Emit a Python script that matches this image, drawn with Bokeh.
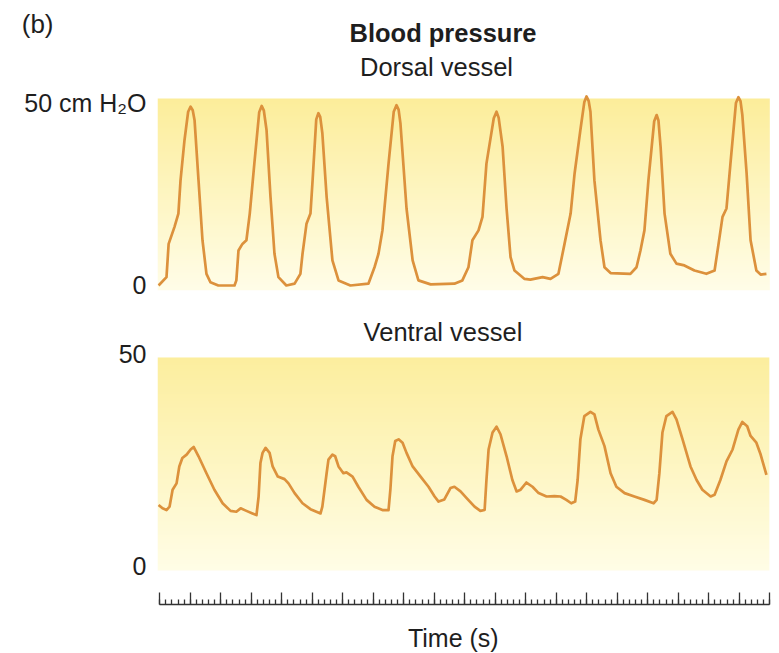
import numpy as np
from bokeh.plotting import figure
from bokeh.layouts import column
from bokeh.models import Range1d, FixedTicker, SingleIntervalTicker
from bokeh.core.properties import value
from bokeh.embed import file_html
from bokeh.resources import INLINE

# ---------------- data ----------------
dorsal_time = [-0.04, 0.22, 0.29, 0.48, 0.61, 0.68, 0.81, 0.93, 1.01, 1.08, 1.14, 1.27, 1.40, 1.53, 1.66, 1.92,
               2.45, 2.51, 2.58, 2.71, 2.84, 2.95, 3.10, 3.26, 3.34, 3.41, 3.50, 3.63, 3.76, 3.89, 4.15, 4.42,
               4.61, 4.68, 4.81, 4.94, 5.01, 5.13, 5.20, 5.26, 5.33, 5.47, 5.66, 5.86, 6.25, 6.84, 7.04, 7.17,
               7.30, 7.50, 7.67, 7.76, 7.83, 7.89, 8.09, 8.29, 8.48, 8.88, 9.66, 9.92, 10.12, 10.25, 10.45,
               10.58, 10.71, 10.95, 11.04, 11.11, 11.24, 11.37, 11.50, 11.63, 11.96, 12.15, 12.55, 12.81, 13.07,
               13.27, 13.47, 13.60, 13.79, 13.92, 13.99, 14.06, 14.12, 14.25, 14.45, 14.58, 14.78, 15.43, 15.63,
               15.76, 15.89, 16.02, 16.21, 16.29, 16.35, 16.42, 16.55, 16.74, 16.94, 17.20, 17.53, 17.92, 18.19,
               18.32, 18.45, 18.58, 18.71, 18.89, 18.97, 19.04, 19.10, 19.24, 19.37, 19.56, 19.70, 19.89]
dorsal_pressure = [0.0, 2.3, 11.4, 16.0, 19.7, 28.8, 39.8, 47.6, 49.0, 48.0, 45.3, 28.8, 12.4, 3.2, 0.9, 0.0,
                   0.0, 1.4, 9.6, 11.4, 12.4, 19.7, 33.4, 47.5, 49.2, 48.0, 42.6, 24.3, 8.7, 2.3, 0.0, 0.5,
                   3.2, 8.7, 16.9, 19.7, 28.8, 45.5, 47.2, 46.2, 41.7, 24.3, 6.9, 1.4, 0.0, 0.5, 5.0, 8.7,
                   15.1, 33.4, 47.6, 49.4, 48.2, 44.4, 21.1, 6.9, 1.4, 0.3, 0.5, 1.4, 5.0, 12.4, 15.1,
                   18.8, 33.4, 45.8, 47.6, 46.0, 38.0, 21.1, 7.8, 4.1, 1.8, 1.6, 2.3, 1.8, 3.2,
                   11.4, 19.7, 30.7, 42.6, 50.3, 51.8, 50.6, 47.6, 28.8, 12.4, 5.0, 3.4, 3.2, 5.0,
                   9.6, 15.1, 28.8, 45.0, 46.7, 45.2, 38.0, 19.7, 8.7, 6.0, 5.5, 4.1, 3.2, 4.1,
                   11.4, 18.8, 21.1, 33.4, 50.0, 51.6, 50.5, 46.7, 30.7, 12.4, 4.1, 3.0, 3.2]

ventral_time = [-0.04, 0.09, 0.22, 0.32, 0.42, 0.55, 0.64, 0.74, 0.88, 1.01, 1.11, 1.27, 1.53, 1.79,
                2.06, 2.32, 2.51, 2.65, 2.84, 3.04, 3.17, 3.24, 3.30, 3.37, 3.47, 3.60, 3.70, 3.87,
                4.09, 4.22, 4.42, 4.68, 4.94, 5.27, 5.33, 5.47, 5.53, 5.66, 5.75, 5.86, 6.02, 6.12,
                6.32, 6.51, 6.78, 7.04, 7.30, 7.50, 7.56, 7.63, 7.72, 7.83, 7.96, 8.09, 8.29, 8.55,
                8.81, 9.01, 9.14, 9.33, 9.53, 9.66, 9.86, 10.06, 10.32, 10.51, 10.65, 10.71, 10.78,
                10.91, 11.04, 11.17, 11.37, 11.56, 11.70, 11.83, 12.02, 12.22, 12.42, 12.68, 12.94,
                13.14, 13.33, 13.49, 13.62, 13.70, 13.79, 13.92, 14.12, 14.25, 14.38, 14.58, 14.78,
                14.97, 15.24, 15.56, 15.89, 16.19, 16.29, 16.38, 16.48, 16.61, 16.81, 16.94, 17.14,
                17.40, 17.60, 17.79, 18.06, 18.19, 18.38, 18.58, 18.78, 18.97, 19.10, 19.26, 19.37,
                19.56, 19.70, 19.89]
ventral_pressure = [14.3, 13.5, 13.1, 13.9, 17.9, 19.4, 23.4, 25.4, 26.2, 27.4, 28.0, 25.8, 21.8, 17.9,
                    14.7, 12.9, 12.7, 13.5, 12.9, 12.3, 11.9, 16.3, 24.2, 26.6, 27.8, 26.6, 23.4, 21.0,
                    20.4, 19.4, 17.1, 14.7, 13.3, 12.3, 13.9, 21.8, 25.0, 26.2, 25.8, 23.4, 21.8, 22.0,
                    21.0, 18.6, 15.5, 13.9, 13.1, 13.1, 17.9, 25.8, 29.4, 29.8, 29.0, 26.6, 23.4, 21.0,
                    18.6, 16.3, 15.1, 15.6, 18.3, 18.6, 17.5, 15.9, 13.9, 12.9, 13.1, 20.2, 27.4,
                    31.4, 32.8, 31.0, 25.8, 20.2, 17.5, 17.9, 19.6, 18.6, 17.1, 16.3, 16.4,
                    16.3, 15.5, 14.7, 15.1, 20.2, 29.8, 35.3, 36.3, 35.7, 32.1, 28.2, 21.8,
                    18.6, 17.1, 16.3, 15.5, 14.7, 15.5, 21.8, 31.4, 35.3, 36.3, 34.5, 29.8,
                    23.4, 20.2, 17.9, 16.3, 16.7, 20.2, 24.6, 27.4, 32.1, 33.9, 32.9, 30.6,
                    29.0, 26.2, 21.4]

pressure_ticks = [0, 50]
dorsal_tick_labels = ["0", "50 cm H\u2082O"]
ventral_tick_labels = ["0", "50"]
time_start, time_end = 0, 20          # seconds covered by the time scale
time_major_step = 1                   # s between long ticks
time_minor_per_major = 5              # subdivisions per long tick

# ---------------- style ----------------
FONT = "Liberation Sans"
TXT = "#1e1e1e"
TRACE = "#DC913C"
FS = "25.5px"
W = 779
LEFT, RIGHT = 157, 8          # frame borders shared by every panel of the column


def gradient(top_hex, bottom_hex, n=256):
    top = np.array([int(top_hex[i:i + 2], 16) for i in (1, 3, 5)], dtype=float)
    bot = np.array([int(bottom_hex[i:i + 2], 16) for i in (1, 3, 5)], dtype=float)
    f = np.linspace(0, 1, n)[:, None]
    rgb = bot * (1 - f) + top * f
    img = np.empty((n, 1), dtype=np.uint32)
    view = img.view(dtype=np.uint8).reshape((n, 1, 4))
    view[:, 0, 0:3] = np.round(rgb).astype(np.uint8)
    view[:, 0, 3] = 255
    return img


def style_common(p):
    p.outline_line_color = None
    p.background_fill_color = "white"
    p.border_fill_color = "white"
    for g in p.xgrid + p.ygrid:
        g.visible = False


def add_text(p, x, y, txt, size, style="normal", align="center"):
    p.text(x=[x], y=[y], text=[txt], text_font=value(FONT), text_font_size=value(size),
           text_font_style=style, text_color=TXT, text_align=align, text_baseline="alphabetic")


def text_strip(height, with_axis=False):
    """Strip whose frame is aligned with the panels; x and y are pixel-like."""
    s = figure(width=W, height=height, x_range=Range1d(LEFT, W - RIGHT), y_range=Range1d(height, 0),
               output_backend="svg", toolbar_location=None,
               x_axis_location=None, y_axis_location="left" if with_axis else None,
               min_border_left=LEFT, min_border_right=RIGHT, min_border_top=0, min_border_bottom=0)
    style_common(s)
    return s


def style_yaxis(ax, ticks, labels, standoff=11, size="25px"):
    ax.ticker = FixedTicker(ticks=ticks)
    ax.major_label_overrides = {t: l for t, l in zip(ticks, labels)}
    ax.axis_line_color = None
    ax.major_tick_line_color = None
    ax.minor_tick_line_color = None
    ax.major_tick_in = 0
    ax.major_tick_out = 0
    ax.major_label_standoff = standoff
    ax.major_label_text_font = FONT
    ax.major_label_text_font_size = size
    ax.major_label_text_color = TXT


x_range = Range1d(-0.075, 20.056)

# ---------------- header ----------------
header = text_strip(88, with_axis=True)
style_yaxis(header.yaxis[0], [23], ["(b)"], standoff=104, size="26px")
add_text(header, 442.5, 32.0, "Blood pressure", "25.5px", "bold")
add_text(header, 436, 66.8, "Dorsal vessel", FS)

# ---------------- dorsal vessel ----------------
p1 = figure(width=W, height=212, x_range=x_range, y_range=Range1d(-1.37, 52.33),
            output_backend="svg", toolbar_location=None, x_axis_location=None,
            min_border_left=LEFT, min_border_right=RIGHT, min_border_top=6, min_border_bottom=10)
style_common(p1)
style_yaxis(p1.yaxis[0], pressure_ticks, dorsal_tick_labels)
p1.image_rgba(image=[gradient("#FCED9A", "#FFFDE8")], x=-0.075, y=-1.37, dw=20.075, dh=52.6)
p1.line(dorsal_time, dorsal_pressure, line_color=TRACE, line_width=2.7, line_join="round")

# ---------------- ventral vessel ----------------
p2 = figure(width=W, height=314, x_range=x_range, y_range=Range1d(-9.21, 62.59),
            output_backend="svg", toolbar_location=None,
            min_border_left=LEFT, min_border_right=RIGHT, min_border_top=0, min_border_bottom=10)
style_common(p2)
style_yaxis(p2.yaxis[0], pressure_ticks, ventral_tick_labels)
p2.image_rgba(image=[gradient("#FCEE9E", "#FFFDE6")], x=-0.075, y=-1.18, dw=20.06, dh=50.31)
p2.line(ventral_time, ventral_pressure, line_color=TRACE, line_width=2.7, line_join="round")
add_text(p2, 9.285, 55.08, "Ventral vessel", FS)

xa = p2.xaxis[0]
xa.ticker = SingleIntervalTicker(interval=time_major_step, num_minor_ticks=time_minor_per_major)
xa.bounds = (time_start, time_end)
xa.axis_line_color = "#333333"
xa.axis_line_width = 1.5
xa.major_tick_line_color = "#333333"
xa.minor_tick_line_color = "#333333"
xa.major_tick_line_width = 1.3
xa.minor_tick_line_width = 1.3
xa.major_tick_in = 12
xa.major_tick_out = 0
xa.minor_tick_in = 5
xa.minor_tick_out = 0
xa.major_label_text_color = None
xa.major_label_text_font_size = "1px"
xa.major_label_standoff = 0

# ---------------- footer (time axis title) ----------------
footer = text_strip(39)
add_text(footer, 452.8, 23.0, "Time (s)", "25px")

layout = column(header, p1, p2, footer, spacing=0)
open("out.html", "w").write(file_html(layout, INLINE))
